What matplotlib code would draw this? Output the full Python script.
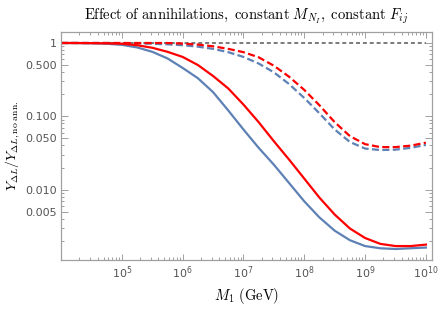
import numpy as np
import matplotlib
matplotlib.use("Agg")
import matplotlib.pyplot as plt
from matplotlib.ticker import FixedLocator, FixedFormatter, NullFormatter

# ---- data ----
log_m1 = [4.0, 4.25, 4.5, 4.75, 5.0, 5.25, 5.5, 5.75, 6.0, 6.25, 6.5, 6.75,
          7.0, 7.25, 7.5, 7.75, 8.0, 8.25, 8.5, 8.75, 9.0, 9.25, 9.5, 9.75, 10.0]

# log10 of Y_DL / Y_DL,no ann. for each curve
blue_solid_log = [0.0, -0.001, -0.004, -0.01, -0.025, -0.06, -0.12, -0.21, -0.34,
                  -0.48, -0.67, -0.92, -1.18, -1.43, -1.66, -1.91, -2.16, -2.38,
                  -2.56, -2.69, -2.77, -2.80, -2.81, -2.80, -2.79]
red_solid_log = [0.0, 0.0, -0.002, -0.005, -0.01, -0.03, -0.065, -0.12, -0.19,
                 -0.30, -0.45, -0.62, -0.84, -1.08, -1.34, -1.59, -1.85, -2.11,
                 -2.34, -2.53, -2.66, -2.74, -2.77, -2.77, -2.75]
red_dashed_log = [0.0, 0.0, 0.0, 0.0, 0.0, 0.0, 0.0, 0.0, -0.008, -0.022, -0.045,
                  -0.08, -0.125, -0.195, -0.31, -0.46, -0.64, -0.85, -1.08, -1.27,
                  -1.38, -1.42, -1.42, -1.40, -1.36]
blue_dashed_log = [0.0, 0.0, 0.0, 0.0, -0.002, -0.005, -0.01, -0.018, -0.03, -0.05,
                   -0.08, -0.125, -0.19, -0.28, -0.40, -0.56, -0.75, -0.96, -1.18,
                   -1.35, -1.44, -1.46, -1.455, -1.43, -1.39]
reference = [1.0] * len(log_m1)

y_ticks = [1, 0.5, 0.1, 0.05, 0.01, 0.005]
y_tick_labels = ["1", "0.500", "0.100", "0.050", "0.010", "0.005"]
x_tick_exps = [5, 6, 7, 8, 9, 10]

title = r"$\mathrm{Effect\ of\ annihilations,\ constant\ }M_{N_I}\mathrm{,\ constant\ }F_{ij}$"
xlabel = r"$M_1\ \mathrm{(GeV)}$"
ylabel = r"$Y_{\Delta L}/Y_{\Delta L,\mathrm{no\ ann.}}$"

# ---- style ----
BLUE = "#5E81B5"
RED = "#FF0000"
GRAY = "#707070"
FRAME = "#a0a0a0"
TICKTXT = "#555555"

m1 = [10.0 ** e for e in log_m1]
to_lin = lambda arr: [10.0 ** v for v in arr]

fig = plt.figure(figsize=(4.4, 3.1), dpi=100)
ax = fig.add_axes([61 / 440, 1 - 260 / 310, (432 - 61) / 440, (260 - 32) / 310])

lw = 1.6
ax.plot(m1, reference, color=GRAY, lw=1.3, ls=(0, (2.2, 1.6)))
ax.plot(m1, to_lin(blue_dashed_log), color=BLUE, lw=lw, ls=(0, (3.2, 1.5)))
ax.plot(m1, to_lin(red_dashed_log), color=RED, lw=lw, ls=(0, (3.2, 1.5)))
ax.plot(m1, to_lin(blue_solid_log), color=BLUE, lw=lw)
ax.plot(m1, to_lin(red_solid_log), color=RED, lw=lw)

ax.set_xscale("log")
ax.set_yscale("log")
ax.set_xlim(1e4, 10 ** 10.1)
ax.set_ylim(10 ** -2.96, 10 ** 0.15)

ax.yaxis.set_major_locator(FixedLocator(y_ticks))
ax.yaxis.set_major_formatter(FixedFormatter(y_tick_labels))
yminor = [k * 10.0 ** d for d in range(-3, 1) for k in range(1, 10)]
ax.yaxis.set_minor_locator(FixedLocator([v for v in yminor if v not in y_ticks]))
ax.yaxis.set_minor_formatter(NullFormatter())

ax.xaxis.set_major_locator(FixedLocator([10.0 ** e for e in x_tick_exps]))
ax.xaxis.set_major_formatter(FixedFormatter([r"$10^{%d}$" % e for e in x_tick_exps]))
xminor = [k * 10.0 ** d for d in range(4, 11) for k in range(2, 10)]
ax.xaxis.set_minor_locator(FixedLocator(xminor))
ax.xaxis.set_minor_formatter(NullFormatter())

for s in ax.spines.values():
    s.set_color(FRAME)
    s.set_linewidth(0.9)

ax.tick_params(which="both", direction="in", top=True, right=True, color=FRAME,
               labelcolor=TICKTXT, labelsize=8, width=0.7)
ax.tick_params(which="major", length=4.5, pad=3)
ax.tick_params(which="minor", length=2.5)
ax.tick_params(axis="y", which="major", length=5)

ax.set_title(title, fontsize=10.5, math_fontfamily="cm", pad=9)
ax.set_xlabel(xlabel, fontsize=10.5, math_fontfamily="cm", labelpad=4)
ax.set_ylabel(ylabel, fontsize=10, math_fontfamily="cm", labelpad=2)

fig.savefig("out.png", dpi=100)
